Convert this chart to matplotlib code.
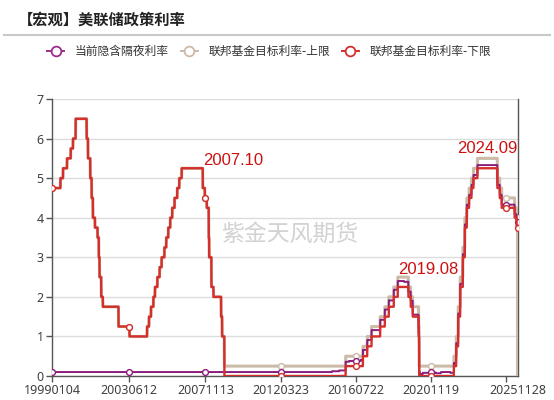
import numpy as np
import pandas as pd
import matplotlib
matplotlib.use("Agg")
import matplotlib.pyplot as plt
from matplotlib.lines import Line2D

# ---------------- data ----------------
title = "【宏观】美联储政策利率"
series_names = ["当前隐含隔夜利率", "联邦基金目标利率-上限", "联邦基金目标利率-下限"]
watermark = "紫金天风期货"
start_date, end_date = "1999-01-04", "2025-11-28"
tick_labels = ["19990104", "20030612", "20071113", "20120323",
               "20160722", "20201119", "20251128"]

rate_change_dates = [
    "1999-01-04", "1999-06-30", "1999-08-24", "1999-11-16", "2000-02-02", "2000-03-21",
    "2000-05-16", "2001-01-03", "2001-01-31", "2001-03-20", "2001-04-18", "2001-05-15",
    "2001-06-27", "2001-08-21", "2001-09-17", "2001-10-02", "2001-11-06", "2001-12-11",
    "2002-11-06", "2003-06-25", "2004-06-30", "2004-08-10", "2004-09-21", "2004-11-10",
    "2004-12-14", "2005-02-02", "2005-03-22", "2005-05-03", "2005-06-30", "2005-08-09",
    "2005-09-20", "2005-11-01", "2005-12-13", "2006-01-31", "2006-03-28", "2006-05-10",
    "2006-06-29", "2007-09-18", "2007-10-31", "2007-12-11", "2008-01-22", "2008-01-30",
    "2008-03-18", "2008-04-30", "2008-10-08", "2008-10-29", "2008-12-16", "2015-12-17",
    "2016-12-15", "2017-03-16", "2017-06-15", "2017-12-14", "2018-03-22", "2018-06-14",
    "2018-09-27", "2018-12-20", "2019-08-01", "2019-09-19", "2019-10-31", "2020-03-04",
    "2020-03-16", "2022-03-17", "2022-05-05", "2022-06-16", "2022-07-28", "2022-09-22",
    "2022-11-03", "2022-12-15", "2023-02-02", "2023-03-23", "2023-05-04", "2023-07-27",
    "2024-09-19", "2024-11-08", "2024-12-19", "2025-09-18", "2025-10-30", "2025-11-25",
    "2025-11-27",
]
upper_rate = [
    4.75, 5.00, 5.25, 5.50, 5.75, 6.00, 6.50, 6.00, 5.50, 5.00, 4.50, 4.00,
    3.75, 3.50, 3.00, 2.50, 2.00, 1.75, 1.25, 1.00, 1.25, 1.50, 1.75, 2.00,
    2.25, 2.50, 2.75, 3.00, 3.25, 3.50, 3.75, 4.00, 4.25, 4.50, 4.75, 5.00,
    5.25, 4.75, 4.50, 4.25, 3.50, 3.00, 2.25, 2.00, 1.50, 1.00, 0.25, 0.50,
    0.75, 1.00, 1.25, 1.50, 1.75, 2.00, 2.25, 2.50, 2.25, 2.00, 1.75, 1.25,
    0.25, 0.50, 1.00, 1.75, 2.50, 3.25, 4.00, 4.50, 4.75, 5.00, 5.25, 5.50,
    5.00, 4.75, 4.50, 4.25, 4.00, 0.00, 4.00,
]
lower_rate = [
    4.75, 5.00, 5.25, 5.50, 5.75, 6.00, 6.50, 6.00, 5.50, 5.00, 4.50, 4.00,
    3.75, 3.50, 3.00, 2.50, 2.00, 1.75, 1.25, 1.00, 1.25, 1.50, 1.75, 2.00,
    2.25, 2.50, 2.75, 3.00, 3.25, 3.50, 3.75, 4.00, 4.25, 4.50, 4.75, 5.00,
    5.25, 4.75, 4.50, 4.25, 3.50, 3.00, 2.25, 2.00, 1.50, 1.00, 0.00, 0.25,
    0.50, 0.75, 1.00, 1.25, 1.50, 1.75, 2.00, 2.25, 2.00, 1.75, 1.50, 1.00,
    0.00, 0.25, 0.75, 1.50, 2.25, 3.00, 3.75, 4.25, 4.50, 4.75, 5.00, 5.25,
    4.75, 4.50, 4.25, 4.00, 3.75, 3.75, 3.75,
]

implied_change_dates = [
    "1999-01-04", "2015-03-02", "2015-08-03", "2015-12-17", "2016-03-01", "2016-11-01",
    "2016-12-15", "2017-03-16", "2017-06-15", "2017-12-14", "2018-03-22", "2018-06-14",
    "2018-09-27", "2018-12-20", "2019-05-01", "2019-08-01", "2019-09-19", "2019-10-31",
    "2020-03-04", "2020-03-16", "2020-04-01", "2020-06-01", "2020-10-01", "2021-03-01",
    "2021-06-17", "2022-01-03", "2022-03-17", "2022-05-05", "2022-06-16", "2022-07-28",
    "2022-09-22", "2022-11-03", "2022-12-15", "2023-02-02", "2023-03-23", "2023-05-04",
    "2023-07-27", "2024-09-19", "2024-11-08", "2024-12-19", "2025-09-18", "2025-10-30",
]
implied_rate = [
    0.10, 0.12, 0.14, 0.36, 0.38, 0.41,
    0.66, 0.91, 1.16, 1.42, 1.68, 1.91,
    2.18, 2.40, 2.38, 2.13, 1.90, 1.55,
    1.09, 0.10, 0.05, 0.08, 0.09, 0.07,
    0.10, 0.08, 0.33, 0.83, 1.58, 2.33,
    3.08, 3.83, 4.33, 4.58, 4.83, 5.08,
    5.33, 4.83, 4.58, 4.33, 4.09, 3.88,
]

# (text, anchor date, y value, horizontal alignment)
peak_labels = [
    ("2007.10", "2007-09-18", 5.45, "left"),
    ("2019.08", "2018-12-20", 2.68, "left"),
    ("2024.09", "2024-02-20", 5.75, "center"),
]

# ---------------- build category axis ----------------
days = pd.bdate_range(start_date, end_date)
xs = np.arange(len(days))


def step_values(change_dates, values):
    cd = pd.to_datetime(change_dates)
    pos = np.searchsorted(cd.values, days.values, side="right") - 1
    return np.asarray(values, dtype=float)[pos]


def idx_of(datestr):
    return int(np.searchsorted(days.values, np.datetime64(pd.Timestamp(datestr))))


upper = step_values(rate_change_dates, upper_rate)
lower = step_values(rate_change_dates, lower_rate)
implied = step_values(implied_change_dates, implied_rate)

tick_idx = [idx_of(t) for t in tick_labels]
extra_tick = 2 * tick_idx[5] - tick_idx[4]
major_ticks = tick_idx[:6] + [extra_tick]
marker_idx = major_ticks + [len(days) - 1]

# ---------------- style ----------------
C_PURPLE = "#8a1c7c"
C_BEIGE = "#cbbba8"
C_RED = "#d42f2b"
C_TEXT = "#cc1111"
CJK = ["Noto Sans CJK SC", "DejaVu Sans"]
plt.rcParams["font.family"] = ["Noto Sans", "Noto Sans CJK SC", "DejaVu Sans"]

fig = plt.figure(figsize=(5.54, 4.00), dpi=100)
ax = fig.add_axes([52 / 554, 24 / 400, 466 / 554, 277 / 400])

mk = dict(marker="o", markevery=marker_idx, markersize=4.2,
          markerfacecolor="white", markeredgewidth=1.0)
ax.plot(xs, upper, color=C_BEIGE, lw=2.2, zorder=3, markeredgecolor=C_BEIGE, **mk)
ax.plot(xs, implied, color=C_PURPLE, lw=1.4, zorder=4, markeredgecolor=C_PURPLE, **mk)
ax.plot(xs, lower, color=C_RED, lw=1.7, zorder=5, markeredgecolor=C_RED, **mk)

ax.set_xlim(0, len(days) - 1)
ax.set_ylim(0, 7)
ax.set_yticks(range(0, 8))
ax.grid(axis="y", color="#dcdcdc", lw=1.0)
ax.set_axisbelow(True)

ax.set_xticks(major_ticks, labels=tick_labels[:6] + [""])
ax.set_xticks([len(days) - 1], labels=[tick_labels[6]], minor=True)
ax.tick_params(axis="x", which="minor", length=0, pad=5.5,
               labelsize=9, labelcolor="#404040")
ax.tick_params(axis="both", which="major", colors="#555555", labelcolor="#404040",
               labelsize=9, length=4, width=1, pad=2)
ax.spines["top"].set_visible(False)
for s in ["left", "bottom", "right"]:
    ax.spines[s].set_color("#555555")
    ax.spines[s].set_linewidth(1)

for text, d, yv, ha in peak_labels:
    ax.text(idx_of(d), yv, text, ha=ha, va="center", fontsize=12,
            color=C_TEXT, family=["Liberation Sans"], zorder=6)

ax.text(0.511, 0.513, watermark, transform=ax.transAxes, ha="center", va="center",
        fontsize=16.5, color="#d2d2d2", family=CJK, zorder=2)

# title and separator
fig.text(18 / 554, 1 - 19.5 / 400, title, ha="left", va="center", fontsize=11,
         fontweight="bold", family=CJK, color="#222222")
fig.add_artist(Line2D([4 / 554, 550 / 554], [1 - 35 / 400, 1 - 35 / 400],
                      transform=fig.transFigure, color="#c8c8c8", lw=1.5))

handles = [
    Line2D([], [], color=c, lw=1.4, marker="o", markersize=7,
           markerfacecolor="white", markeredgecolor=c, markeredgewidth=1.3)
    for c in ["#9b2c8b", C_BEIGE, C_RED]
]
fig.legend(handles, series_names, loc="center", bbox_to_anchor=(0.486, 1 - 51.5 / 400),
           ncol=3, frameon=False, handlelength=1.45, handletextpad=0.9,
           columnspacing=1.0, prop={"family": CJK, "size": 8.5},
           labelcolor="#333333")

fig.savefig("out.png", dpi=100)
